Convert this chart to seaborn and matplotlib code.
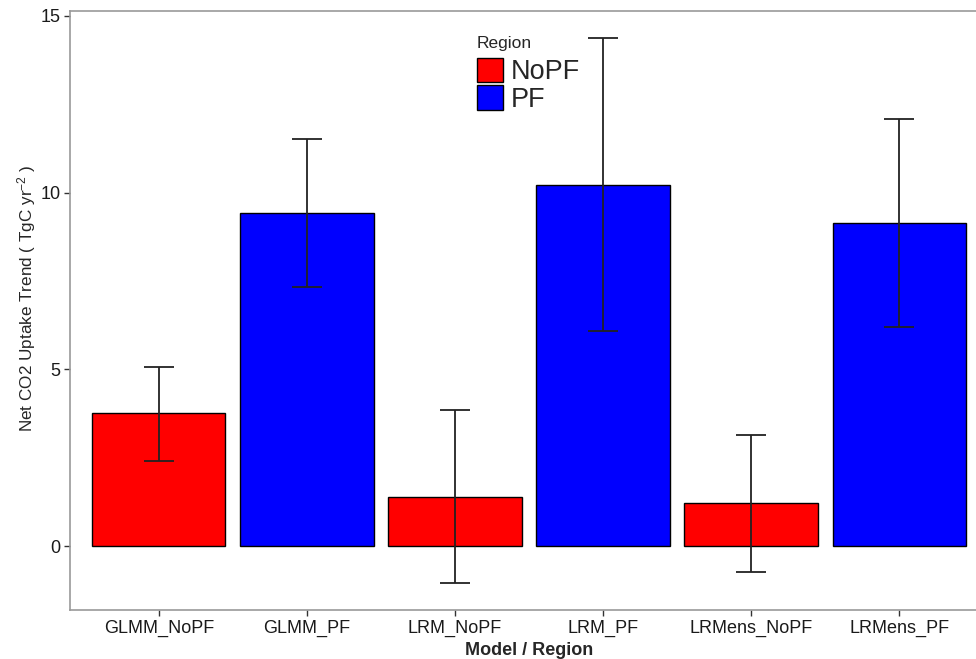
import numpy as np
import pandas as pd
import matplotlib
matplotlib.use("Agg")
import matplotlib.pyplot as plt
import seaborn as sns

models = ["GLMM_NoPF", "GLMM_PF", "LRM_NoPF", "LRM_PF", "LRMens_NoPF", "LRMens_PF"]
regions = ["NoPF", "PF", "NoPF", "PF", "NoPF", "PF"]
trend = [3.76, 9.42, 1.39, 10.22, 1.22, 9.14]
err_low = [2.41, 7.33, -1.05, 6.09, -0.74, 6.20]
err_high = [5.07, 11.52, 3.85, 14.38, 3.14, 12.09]

df = pd.DataFrame({"Model": models, "Region": regions, "Trend": trend,
                   "lo": err_low, "hi": err_high})

sns.set_style("white")
plt.rcParams["font.family"] = ["Liberation Sans", "DejaVu Sans"]
plt.rcParams["mathtext.default"] = "regular"

fig = plt.figure(figsize=(9.76, 6.59), dpi=100)
ax = fig.add_axes([70 / 976, 49 / 659, 918 / 976, 599 / 659])

sns.barplot(data=df, x="Model", y="Trend", hue="Region", order=models,
            hue_order=["NoPF", "PF"], palette={"NoPF": "#FF0000", "PF": "#0000FF"},
            dodge=False, width=0.9, saturation=1, edgecolor="black", linewidth=1,
            errorbar=None, ax=ax)

xpos = np.arange(len(models))
yerr = [df["Trend"] - df["lo"], df["hi"] - df["Trend"]]
ax.errorbar(xpos, df["Trend"], yerr=yerr, fmt="none", ecolor="#222222",
            elinewidth=1.3, capsize=11, capthick=1.3)

ax.set_xlim(-0.6, 5.6)
ax.set_ylim(-1.81, 15.14)
ax.set_yticks([0, 5, 10, 15])
ax.set_xlabel("Model / Region", fontsize=13, fontweight="bold", labelpad=4)
ax.set_ylabel(r"Net CO2 Uptake Trend ( TgC yr$^{-2}$ )", fontsize=12.3, labelpad=4)
ax.yaxis.set_label_coords(-32 / 918, 0.52)
ax.tick_params(axis="both", labelsize=13, length=4, width=1, color="#333333",
               direction="out", bottom=True, left=True, labelcolor="#1a1a1a", pad=3)

for s in ax.spines.values():
    s.set_color("#999999")
    s.set_linewidth(1.2)

leg = ax.legend(title="Region", loc="upper left", bbox_to_anchor=(458 / 976, 1 - 17 / 659),
                bbox_transform=fig.transFigure, frameon=False, fontsize=19.5,
                title_fontsize=12.5, handlelength=0.96, handleheight=1.0,
                labelspacing=0.0, handletextpad=0.3, borderpad=0.2)
leg._legend_box.align = "left"
leg._legend_box.sep = 5

fig.savefig("out.png", dpi=100)
